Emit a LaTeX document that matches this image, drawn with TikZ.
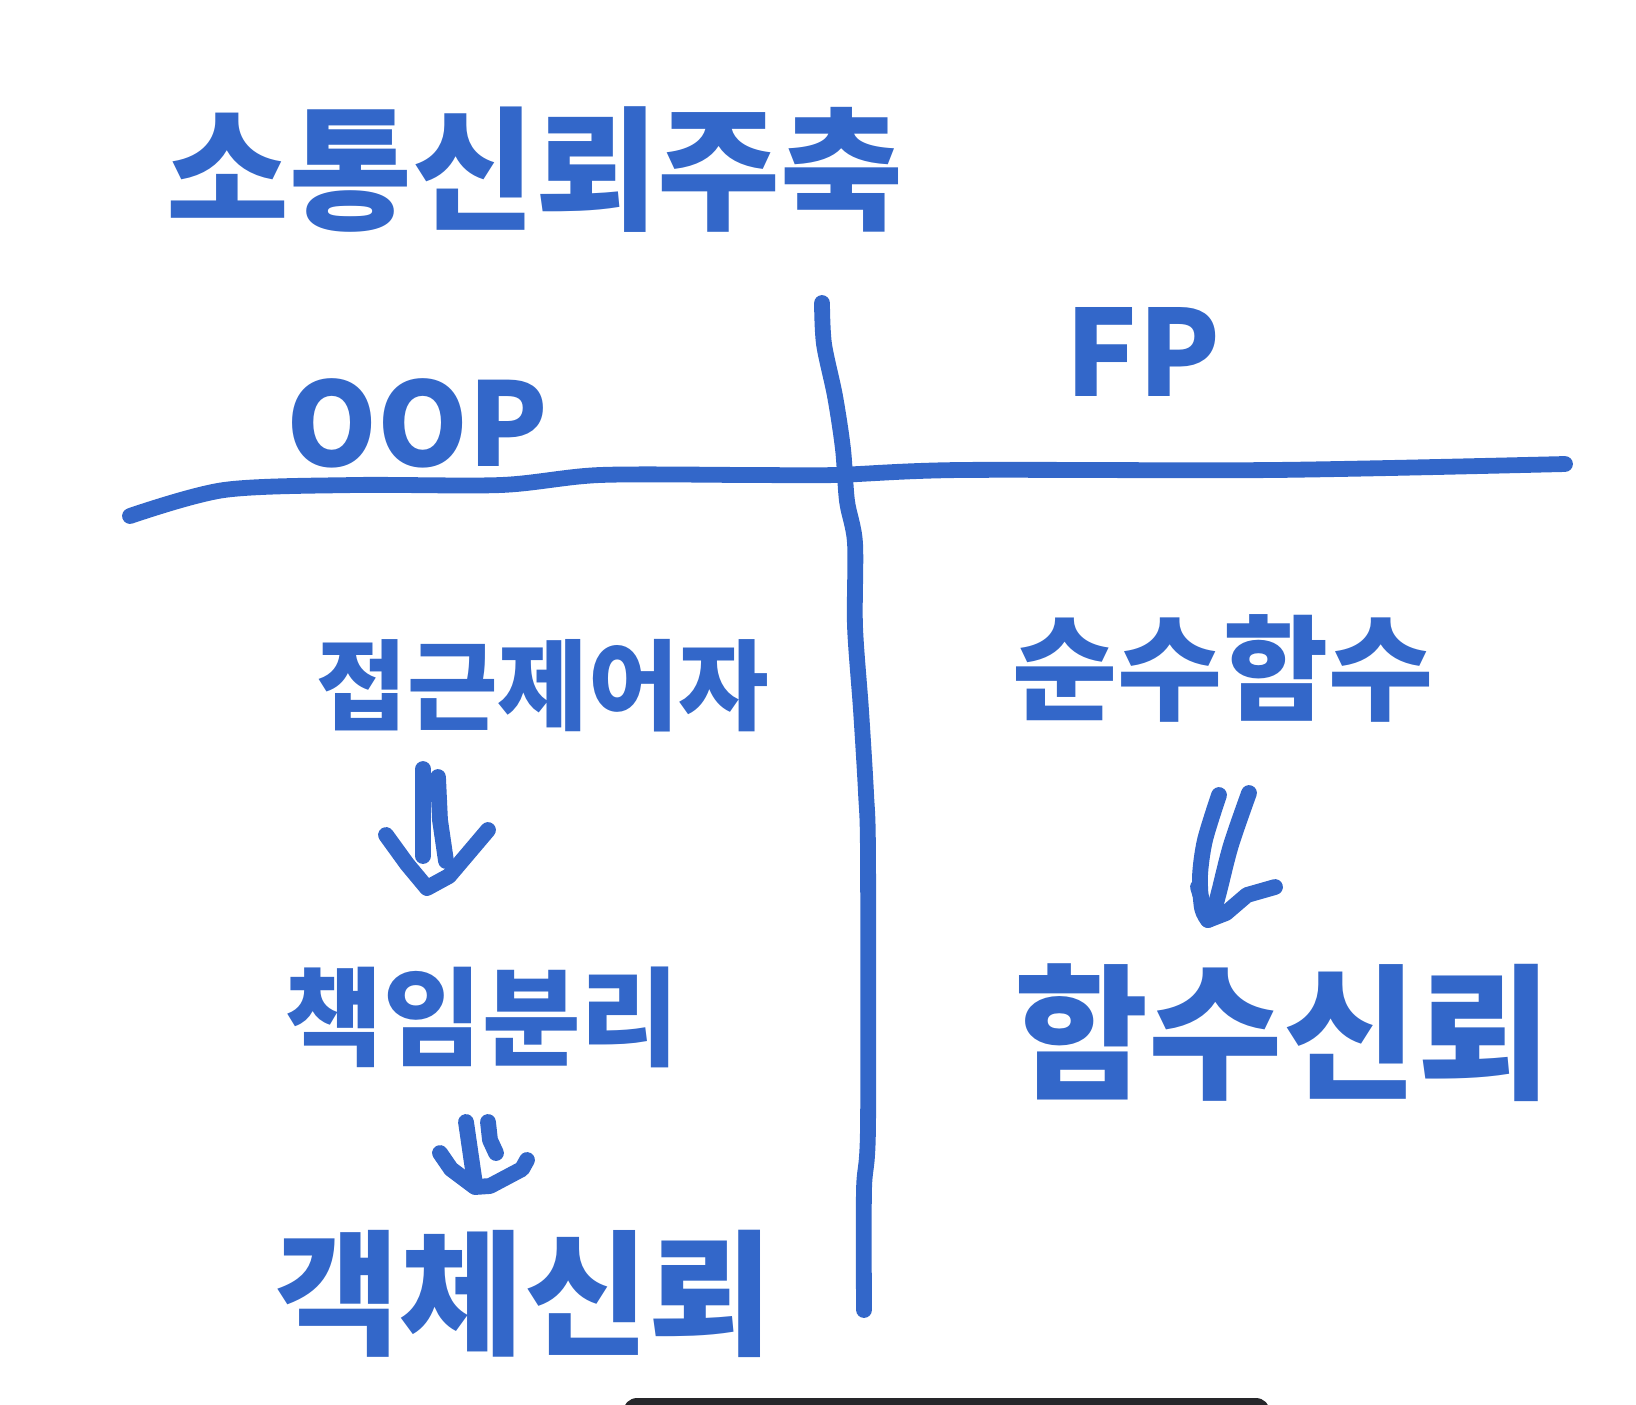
\documentclass[tikz,border=0pt]{standalone}
\usepackage{fontspec}
\setmainfont{Noto Sans CJK KR}
\usetikzlibrary{positioning,calc}
\definecolor{penBlue}{RGB}{51,103,201}
\definecolor{barDark}{RGB}{38,38,42}
\newcommand{\penfont}[1]{\fontsize{#1}{#1}\selectfont\bfseries}
\tikzset{
  pen/.style={draw=penBlue, line width=9pt, line cap=round, line join=round},
  word/.style={text=penBlue, inner sep=0pt, anchor=center},
}

\begin{document}
\begin{tikzpicture}[x=0.02cm, y=-0.02cm]
  \useasboundingbox (0,0) rectangle (1636,1404);

  % title and column heads
  \node[word, font={\penfont{76}}] (title) at (535,170) {소통신뢰주축};
  \node[word, font={\penfont{66}}] (oop) at (417,423) {OOP};
  \node[word, font={\penfont{68}}] (fp) at (1143,352) {FP};

  % dividers
  \draw[pen] plot[smooth, tension=0.5] coordinates {(130,516) (224,490) (355,485) (501,485) (600,475) (751,475) (835,475) (960,470) (1273,470) (1565,464)};
  \draw[pen] plot[smooth, tension=0.5] coordinates {(822,303) (824,344) (835,396) (843,449) (847,501) (855,543) (855,626) (861,710) (866,793) (868,856) (868,1127) (864,1190) (864,1310)};

  % OOP column
  \node[word, font={\penfont{56}}] (access) at (543,686) {접근제어자};
  \node[word, font={\penfont{61}}] (resp) at (482,1017) {책임분리};
  \node[word, font={\penfont{77}}] (objtrust) at (524,1294) {객체신뢰};

  % FP column
  \node[word, font={\penfont{65}}] (pure) at (1223,668) {순수함수};
  \node[word, font={\penfont{83}}] (fntrust) at (1283,1033) {함수신뢰};

  % hand arrows
  \coordinate (a1tip) at (427,888);
  \draw[pen] (423,769) -- (423,856);
  \draw[pen] (438,777) -- (440,820) -- (446,861);
  \draw[pen] (386,835) -- (407,864) -- (a1tip) -- (449,876) -- (488,830);

  \coordinate (a2tip) at (475,1187);
  \draw[pen] (466,1122) -- (475,1184);
  \draw[pen] (488,1122) -- (490,1140) -- (496,1153);
  \draw[pen] (440,1153) -- (451,1169) -- (a2tip) -- (490,1186) -- (522,1169) -- (527,1160);

  \coordinate (a3tip) at (1208,920);
  \draw[pen] plot[smooth] coordinates {(1219,795) (1205,840) (1200,876) (1202,908) (1208,920)};
  \draw[pen] plot[smooth] coordinates {(1249,793) (1231,845) (1219,892) (1212,918)};
  \draw[pen] (1198,887) -- (a3tip) -- (1226,913) -- (1247,895) -- (1275,887);

  % toolbar edge at the bottom
  \fill[barDark, rounded corners=8] (623,1398) rectangle (1270,1430);
\end{tikzpicture}
\end{document}
